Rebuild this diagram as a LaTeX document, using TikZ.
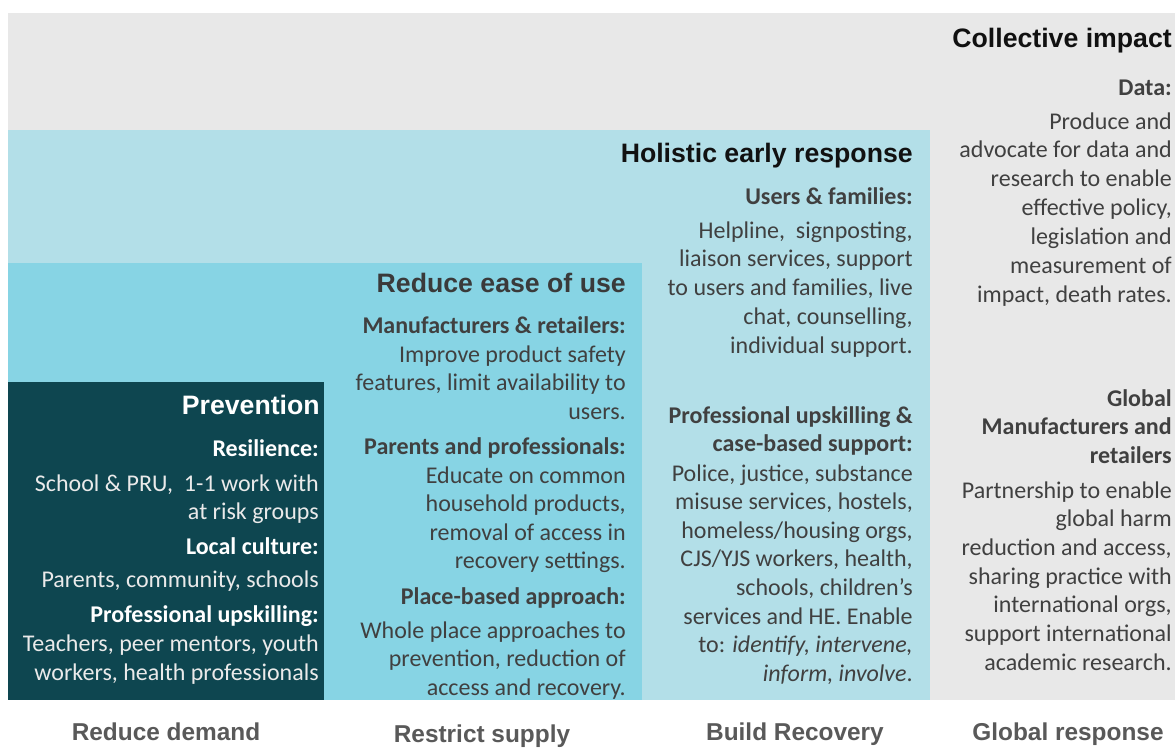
\documentclass[tikz,border=0pt]{standalone}
\usepackage{fontspec}
\setmainfont{Carlito}
\newfontfamily\headfont{Liberation Sans}
\definecolor{bggray}{HTML}{E8E8E8}
\definecolor{lightblue}{HTML}{B3DFE8}
\definecolor{midblue}{HTML}{87D4E4}
\definecolor{darkteal}{HTML}{0E4650}
\definecolor{bodygray}{HTML}{404040}
\definecolor{titleblack}{HTML}{111111}
\definecolor{titlegray}{HTML}{3A3A3A}
\definecolor{prevtext}{HTML}{EAEAEA}
\definecolor{labelgray}{HTML}{595959}
\newcommand\blocklines[6]{%
  \foreach \lntext [count=\lni from 0] in {#6}
    {\node[#2, anchor=base east] (#1-\lni) at (#3, {#4+\lni*#5}) {\lntext};}}
\begin{document}
\begin{tikzpicture}[x=0.75pt,y=-0.75pt,
  body/.style={font=\fontsize{18}{21.75}\selectfont, text=bodygray, inner sep=0pt},
  bodyb/.style={font=\fontsize{18}{21.75}\selectfont\bfseries, text=bodygray, inner sep=0pt},
  pbody/.style={body, text=prevtext},
  pbodyb/.style={bodyb, text=white},
  title/.style={font=\headfont\bfseries\fontsize{20}{24}\selectfont, inner sep=0pt, anchor=base east, text=titleblack},
  collabel/.style={font=\headfont\bfseries\fontsize{18.3}{22}\selectfont, inner sep=0pt, anchor=base, text=labelgray}]
\useasboundingbox (0,0) rectangle (1175,747);
\fill[white] (0,0) rectangle (1175,747);
% layered panels
\fill[bggray] (8,13) rectangle (1175,700);
\fill[lightblue] (8,130) rectangle (930,700);
\fill[midblue] (8,263) rectangle (642,700);
\fill[darkteal] (8,382) rectangle (324,700);

% Collective impact
\node[title] (ctitle) at (1172,47) {Collective impact};
\blocklines{cdh}{bodyb}{1172}{95}{29}{{Data:}}
\blocklines{cd}{body}{1172}{129}{28.9}{{Produce and},{advocate for data and},{research to enable},{effective policy,},{legislation and},{measurement of},{impact, death rates.}}
\blocklines{cgh}{bodyb}{1172}{406}{28.6}{{Global},{Manufacturers and},{retailers}}
\blocklines{cg}{body}{1172}{498}{28.7}{{Partnership to enable},{global harm},{reduction and access,},{sharing practice with},{international orgs,},{support international},{academic research.}}

% Holistic early response
\node[title] (htitle) at (913,162) {Holistic early response};
\blocklines{huh}{bodyb}{913}{204}{29}{{Users \& families:}}
\blocklines{hu}{body}{913}{238}{28.8}{{Helpline,\ \ signposting,},{liaison services, support},{to users and families, live},{chat, counselling,},{individual support.}}
\blocklines{hph}{bodyb}{913}{423}{28.8}{{Professional upskilling \&},{case-based support:}}
\blocklines{hp}{body}{913}{481}{28.6}{{Police, justice, substance},{misuse services, hostels,},{homeless/housing orgs,},{CJS/YJS workers, health,},{schools, children’s},{services and HE. Enable},{to: \textit{identify, intervene,}},{\textit{inform, involve}.}}

% Reduce ease of use
\node[title, text=titlegray] (rtitle) at (626,292) {Reduce ease of use};
\blocklines{rmh}{bodyb}{626}{333}{29}{{Manufacturers \& retailers:}}
\blocklines{rm}{body}{626}{362}{28.7}{{Improve product safety},{features, limit availability to},{users.}}
\blocklines{rph}{bodyb}{626}{454}{29}{{Parents and professionals:}}
\blocklines{rp}{body}{626}{483}{28.5}{{Educate on common},{household products,},{removal of access in},{recovery settings.}}
\blocklines{rbh}{bodyb}{626}{604}{29}{{Place-based approach:}}
\blocklines{rb}{body}{626}{638.5}{28.3}{{Whole place approaches to},{prevention, reduction of},{access and recovery.}}

% Prevention
\node[title, text=white] (ptitle) at (320,414) {Prevention};
\blocklines{prh}{pbodyb}{319}{456}{29}{{Resilience:}}
\blocklines{pr}{pbody}{319}{491}{28.5}{{School \& PRU,\ \ 1-1 work with},{at risk groups}}
\blocklines{plh}{pbodyb}{319}{554}{29}{{Local culture:}}
\blocklines{pl}{pbody}{319}{587.5}{29}{{Parents, community, schools}}
\blocklines{puh}{pbodyb}{319}{622}{29}{{Professional upskilling:}}
\blocklines{pu}{pbody}{319}{651.5}{28.5}{{Teachers, peer mentors, youth},{workers, health professionals}}

% column labels
\node[collabel] (lab1) at (166,740) {Reduce demand};
\node[collabel] (lab2) at (482,742) {Restrict supply};
\node[collabel] (lab3) at (795,740) {Build Recovery};
\node[collabel] (lab4) at (1068,740) {Global response};
\end{tikzpicture}
\end{document}
